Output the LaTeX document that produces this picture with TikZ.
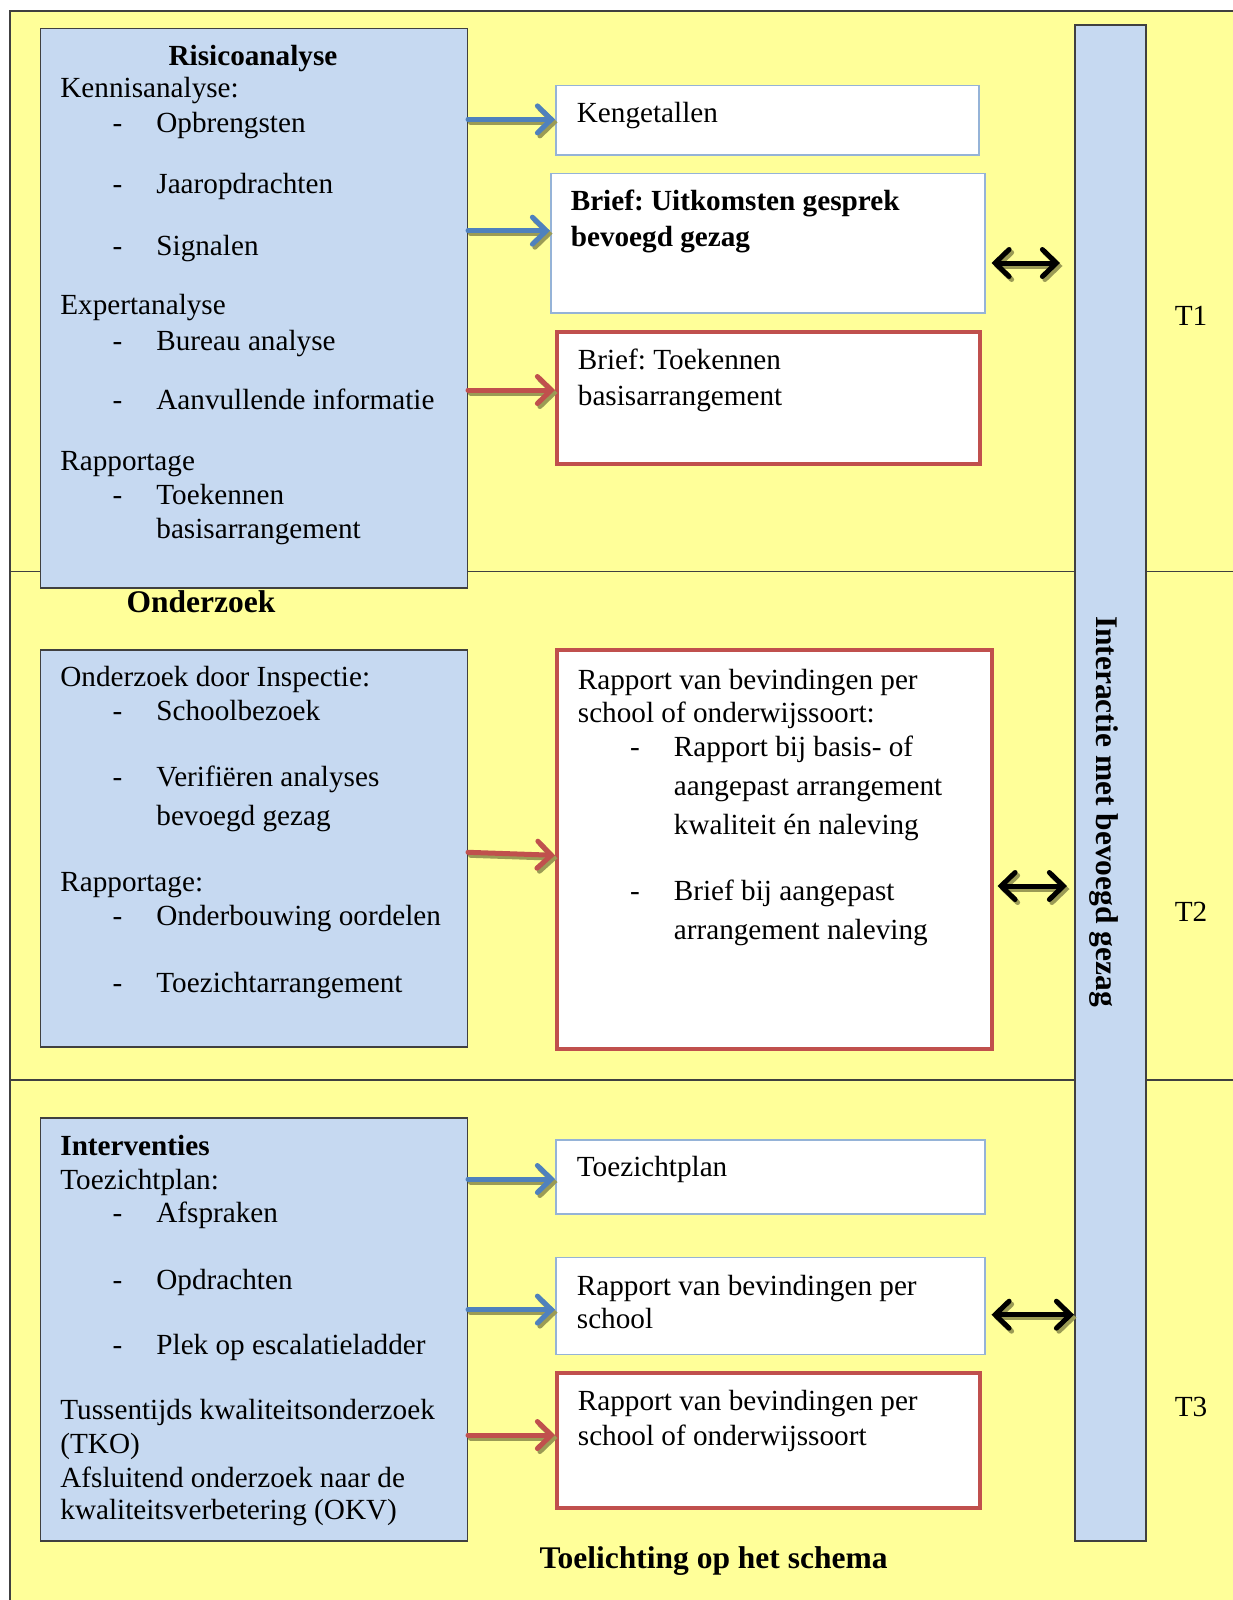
\documentclass[tikz,border=0pt]{standalone}
\usepackage{fontspec}
\setmainfont{Liberation Serif}
\usetikzlibrary{arrows.meta}
\frenchspacing
\definecolor{bgy}{RGB}{255,255,153}
\definecolor{boxb}{RGB}{198,217,241}
\definecolor{edged}{RGB}{64,64,64}
\definecolor{lblue}{RGB}{149,179,215}
\definecolor{redc}{RGB}{192,80,77}
\definecolor{bluec}{RGB}{79,129,189}
\definecolor{shadc}{RGB}{155,155,85}
\newcommand\sharrow[3]{%
  \draw[#1, draw=shadc, transform canvas={xshift=2.5pt, yshift=-3pt}] #2 -- #3;
  \draw[#1] #2 -- #3;}
\newcommand\tline[4][txt]{\node[#1] (#2) at (#3) {#4};}
\begin{document}
\begin{tikzpicture}[x=1pt,y=-1pt,
 lbox/.style={draw=edged, line width=1.5pt, fill=boxb, anchor=north west, inner sep=0pt},
 wbox/.style={draw=lblue, line width=1.5pt, fill=white, anchor=north west, inner sep=0pt},
 rbox/.style={draw=redc, line width=3.5pt, fill=white, anchor=north west, inner sep=0pt},
 txt/.style={anchor=base west, inner sep=0pt, yshift=-3pt, font=\fontsize{29.2}{34}\selectfont},
 btxt/.style={anchor=base west, inner sep=0pt, yshift=-3pt, font=\fontsize{29.2}{34}\selectfont\bfseries},
 ctxt/.style={anchor=base, inner sep=0pt, yshift=-3pt, font=\fontsize{29.2}{34}\selectfont\bfseries},
 htxt/.style={anchor=base, inner sep=0pt, yshift=-3pt, font=\fontsize{31.5}{36}\selectfont\bfseries},
 tlab/.style={anchor=base, inner sep=0pt, font=\fontsize{29.2}{34}\selectfont},
 barr/.style={draw=bluec, line width=5pt, line cap=round, -{Straight Barb[length=14pt, width=27pt, line cap=round]}},
 rarr/.style={draw=redc, line width=5pt, line cap=round, -{Straight Barb[length=14pt, width=27pt, line cap=round]}},
 dbl/.style={draw=black, line width=5pt, line cap=round, {Straight Barb[length=14pt, width=27pt, line cap=round]}-{Straight Barb[length=14pt, width=27pt, line cap=round]}}
]
\clip (0,0) rectangle (1233,1600);
\fill[white] (0,0) rectangle (1233,1600);
\draw[draw=edged, line width=1.5pt, fill=bgy] (10.2,11) rectangle (1260,1630);
\draw[edged, line width=1.2pt] (10.2,571.6) -- (1240,571.6);
\draw[edged, line width=1.2pt] (10.2,1080) -- (1240,1080);

% left boxes
\node[lbox, minimum width=426.7, minimum height=559.4] (b1) at (39.8,27.6) {};
\node[lbox, minimum width=426.7, minimum height=397] (b2) at (39.8,649) {};
\node[lbox, minimum width=426.7, minimum height=423] (b3) at (39.8,1117) {};
% right boxes
\node[wbox, minimum width=423, minimum height=69] (kg) at (555,85) {};
\node[wbox, minimum width=434, minimum height=139.5] (br) at (550,172.5) {};
\node[rbox, minimum width=423, minimum height=132] (tk) at (555,330) {};
\node[rbox, minimum width=435, minimum height=399] (rp) at (555,648) {};
\node[wbox, minimum width=429, minimum height=74] (tz) at (555,1139) {};
\node[wbox, minimum width=429, minimum height=97] (rs) at (555,1256.5) {};
\node[rbox, minimum width=423, minimum height=135] (ro) at (555,1371) {};
% bar
\node[lbox, minimum width=71, minimum height=1515.5] (bar) at (1074,24.5) {};
\node[font=\fontsize{31.5}{36}\selectfont\bfseries, rotate=-90, inner sep=0pt] (bart) at (1104,811.5) {Interactie met bevoegd gezag};

% texts box 1
\tline[ctxt]{h1}{253,62.3}{Risicoanalyse}
\tline{t1}{60.2,95}{Kennisanalyse:}
\tline{d1}{112.3,129.6}{-}
\tline{t2}{156.2,129.6}{Opbrengsten}
\tline{d2}{112.3,190.9}{-}
\tline{t3}{156.2,190.9}{Jaaropdrachten}
\tline{d3}{112.3,252}{-}
\tline{t4}{156.2,252}{Signalen}
\tline{t5}{60.2,311.3}{Expertanalyse}
\tline{d4}{112.3,347}{-}
\tline{t6}{156.2,347}{Bureau analyse}
\tline{d5}{112.3,406.2}{-}
\tline{t7}{156.2,406.2}{Aanvullende informatie}
\tline{t8}{60.2,467.5}{Rapportage}
\tline{d6}{112.3,501.2}{-}
\tline{t9}{156.2,501.2}{Toekennen}
\tline{t10}{156.2,535.9}{basisarrangement}
\tline[htxt]{h2}{201,609.4}{Onderzoek}

% texts box 2
\tline{u1}{60.2,683.9}{Onderzoek door Inspectie:}
\tline{e1}{112.3,717.6}{-}
\tline{u2}{156.2,717.6}{Schoolbezoek}
\tline{e2}{112.3,783.9}{-}
\tline{u3}{156.2,783.9}{Verifiëren analyses}
\tline{u4}{156.2,822.7}{bevoegd gezag}
\tline{u5}{60.2,888}{Rapportage:}
\tline{e3}{112.3,922.7}{-}
\tline{u6}{156.2,922.7}{Onderbouwing oordelen}
\tline{e4}{112.3,989}{-}
\tline{u7}{156.2,989}{Toezichtarrangement}

% texts box 3
\tline[btxt]{v0}{60.2,1152.4}{Interventies}
\tline{v1}{60.2,1186}{Toezichtplan:}
\tline{f1}{112.3,1219.7}{-}
\tline{v2}{156.2,1219.7}{Afspraken}
\tline{f2}{112.3,1286}{-}
\tline{v3}{156.2,1286}{Opdrachten}
\tline{f3}{112.3,1351.4}{-}
\tline{v4}{156.2,1351.4}{Plek op escalatieladder}
\tline{v5}{60.2,1416.7}{Tussentijds kwaliteitsonderzoek}
\tline{v6}{60.2,1450.4}{(TKO)}
\tline{v7}{60.2,1484.1}{Afsluitend onderzoek naar de}
\tline{v8}{60.2,1516.8}{kwaliteitsverbetering (OKV)}

% right texts
\tline{r1}{576.7,119.4}{Kengetallen}
\tline[btxt]{r2}{570.6,207.2}{Brief: Uitkomsten gesprek}
\tline[btxt]{r3}{570.6,243}{bevoegd gezag}
\tline{r4}{577.7,366.4}{Brief: Toekennen}
\tline{r5}{577.7,402.2}{basisarrangement}
\tline{r6}{577.7,686}{Rapport van bevindingen per}
\tline{r7}{577.7,719.6}{school of onderwijssoort:}
\tline{g1}{629.8,753.3}{-}
\tline{r8}{673.7,753.3}{Rapport bij basis- of}
\tline{r9}{673.7,792.1}{aangepast arrangement}
\tline{r10}{673.7,831.9}{kwaliteit én naleving}
\tline{g2}{629.8,897.2}{-}
\tline{r11}{673.7,897.2}{Brief bij aangepast}
\tline{r12}{673.7,936}{arrangement naleving}
\tline{r13}{576.7,1173.8}{Toezichtplan}
\tline{r14}{576.7,1292.2}{Rapport van bevindingen per}
\tline{r15}{576.7,1325.9}{school}
\tline{r16}{577.7,1407.5}{Rapport van bevindingen per}
\tline{r17}{577.7,1442.2}{school of onderwijssoort}

% T labels
\tline[tlab]{T1}{1191,325}{T1}
\tline[tlab]{T2}{1191,921.5}{T2}
\tline[tlab]{T3}{1191,1416.5}{T3}
\tline[htxt]{h3}{713.5,1565}{Toelichting op het schema}

% arrows
\sharrow{barr}{(b1.east |- 0,119.4)}{(kg.west |- 0,119.4)}
\sharrow{barr}{(b1.east |- 0,230.7)}{(br.west |- 0,230.7)}
\sharrow{rarr}{(b1.east |- 0,390)}{(tk.west |- 0,390)}
\sharrow{rarr}{(b2.east |- 0,852.3)}{(rp.west |- 0,855.3)}
\sharrow{barr}{(b3.east |- 0,1179)}{(tz.west |- 0,1179)}
\sharrow{barr}{(b3.east |- 0,1309.6)}{(rs.west |- 0,1309.6)}
\sharrow{rarr}{(b3.east |- 0,1435)}{(ro.west |- 0,1435)}
% double arrows
\sharrow{dbl}{([xshift=6pt]br.east |- 0,263)}{([xshift=-14pt]bar.west |- 0,263)}
\sharrow{dbl}{([xshift=4pt]rp.east |- 0,886)}{([xshift=-7pt]bar.west |- 0,886)}
\sharrow{dbl}{([xshift=6pt]rs.east |- 0,1314.7)}{([xshift=0pt]bar.west |- 0,1314.7)}
\end{tikzpicture}
\end{document}
